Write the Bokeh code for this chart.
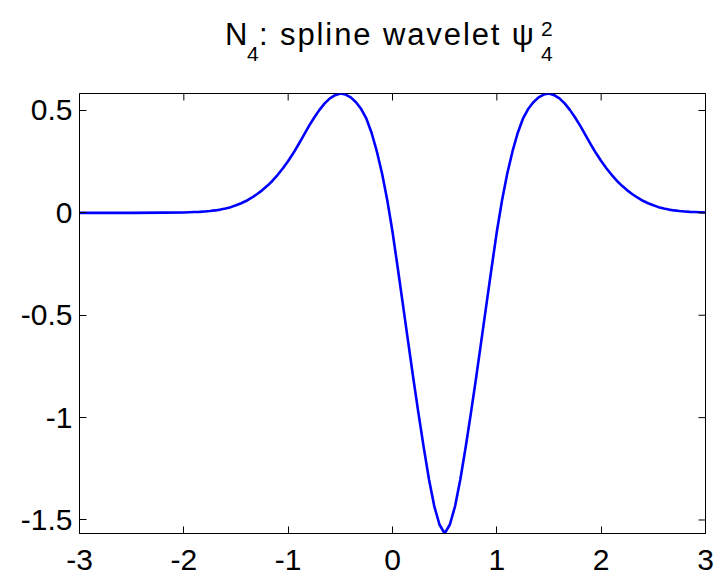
from bokeh.plotting import figure
from bokeh.models import FixedTicker, Range1d, Div
from bokeh.layouts import column
from bokeh.embed import file_html
from bokeh.resources import INLINE
import numpy as np

# sample grid of the wavelet
x_tail = [-3.0, -2.5, -2.2]
y_tail = [0.0, 0.0, 0.001]
x_main = list(np.round(np.linspace(-2.0, 3.0, 101), 2))
y_main = [
    0.002, 0.003, 0.004, 0.005, 0.007, 0.009, 0.012, 0.016, 0.021, 0.028,
    0.037, 0.047, 0.059, 0.074, 0.091, 0.110, 0.132, 0.157, 0.186, 0.218,
    0.253, 0.292, 0.335, 0.380, 0.425, 0.466, 0.503, 0.535, 0.559, 0.575,
    0.583, 0.578, 0.564, 0.540, 0.507, 0.460, 0.390, 0.300, 0.192, 0.062,
    -0.092, -0.268, -0.448, -0.630, -0.810, -0.983, -1.148, -1.302, -1.432, -1.522,
    -1.566,
    -1.522, -1.432, -1.302, -1.148, -0.983, -0.810, -0.630, -0.448, -0.268, -0.092,
    0.062, 0.192, 0.300, 0.390, 0.460, 0.507, 0.540, 0.564, 0.578, 0.583,
    0.575, 0.559, 0.535, 0.503, 0.466, 0.425, 0.380, 0.335, 0.292, 0.253,
    0.218, 0.186, 0.157, 0.132, 0.110, 0.091, 0.074, 0.059, 0.047, 0.037,
    0.028, 0.021, 0.016, 0.012, 0.009, 0.007, 0.005, 0.004, 0.003, 0.002,
]
xs = x_tail + x_main
ys = y_tail + y_main

x_ticks = [-3, -2, -1, 0, 1, 2, 3]
x_tick_labels = ["-3", "-2", "-1", "0", "1", "2", "3"]
y_ticks = [-1.5, -1, -0.5, 0, 0.5]
y_tick_labels = ["-1.5", "-1", "-0.5", "0", "0.5"]

FONT = "Liberation Sans"
W, H = 717, 584
HEAD = 70                      # height of the title strip
LEFT, RIGHT, TOP, BOTTOM = 79, 12, 93 - HEAD, 51
TICK = 7
x0, x1 = -3.0, 3.0
y0, y1 = min(ys), max(ys)
fw = W - LEFT - RIGHT
fh = H - HEAD - TOP - BOTTOM

p = figure(width=W, height=H - HEAD, x_range=Range1d(x0, x1), y_range=Range1d(y0, y1),
           output_backend="svg", toolbar_location=None,
           min_border_left=LEFT, min_border_right=RIGHT,
           min_border_top=TOP, min_border_bottom=BOTTOM,
           background_fill_color="white", border_fill_color="white", margin=0)
p.xgrid.visible = False
p.ygrid.visible = False
p.outline_line_color = "black"
p.outline_line_width = 1

p.line(xs, ys, line_color="#0000ff", line_width=2.6, line_join="round")

for ax, ticks, labels in ((p.xaxis[0], x_ticks, x_tick_labels),
                          (p.yaxis[0], y_ticks, y_tick_labels)):
    ax.ticker = FixedTicker(ticks=ticks)
    ax.major_label_overrides = {t: l for t, l in zip(ticks, labels)}
    ax.major_tick_in = TICK
    ax.major_tick_out = 0
    ax.minor_tick_in = 0
    ax.minor_tick_out = 0
    ax.axis_line_color = "black"
    ax.major_tick_line_color = "black"
    ax.major_label_text_font = FONT
    ax.major_label_text_font_size = "30px"
    ax.major_label_text_color = "black"
p.xaxis[0].major_label_standoff = 16
p.yaxis[0].major_label_standoff = 7

# inward ticks on the top and right edges of the box
ty = TICK / fh * (y1 - y0)
tx = TICK / fw * (x1 - x0)
p.segment(x0=x_ticks, y0=[y1] * len(x_ticks), x1=x_ticks, y1=[y1 - ty] * len(x_ticks),
          line_color="black", line_width=1)
p.segment(x0=[x1] * len(y_ticks), y0=y_ticks, x1=[x1 - tx] * len(y_ticks), y1=y_ticks,
          line_color="black", line_width=1)

# title with subscripts and a stacked super/subscript on psi
span = "position:absolute;line-height:1;white-space:nowrap;"
title_html = (
    f'<div style="position:relative;width:{W}px;height:{HEAD}px;'
    f"font-family:'{FONT}';color:black;\">"
    f'<span style="{span}left:225px;top:19px;font-size:31px;">N</span>'
    f'<span style="{span}left:247px;top:43px;font-size:21px;">4</span>'
    f'<span style="{span}left:259px;top:19px;font-size:31px;letter-spacing:1.9px;">'
    f': spline wavelet \u03c8</span>'
    f'<span style="{span}left:541px;top:18px;font-size:21px;">2</span>'
    f'<span style="{span}left:541px;top:43px;font-size:21px;">4</span>'
    f'</div>'
)
head = Div(text=title_html, width=W, height=HEAD, margin=0)

layout = column(head, p, spacing=0, margin=0)
open("out.html", "w").write(file_html(layout, INLINE))
